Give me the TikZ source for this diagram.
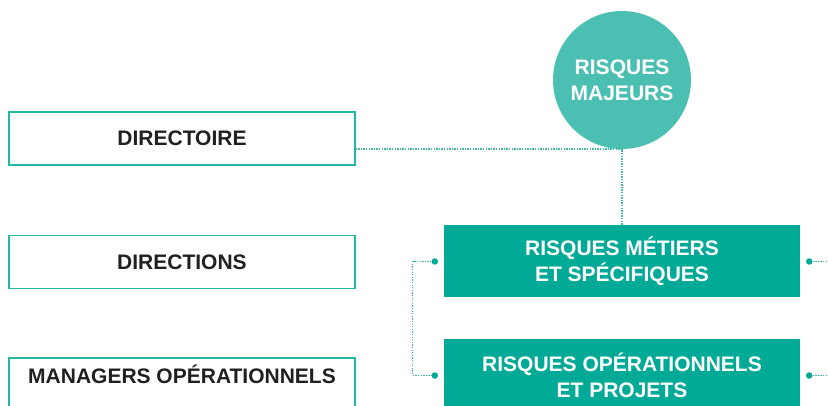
\documentclass[tikz,border=0pt]{standalone}
\usepackage{fontspec}
\setmainfont{Liberation Sans}
\definecolor{tealbox}{HTML}{00AA96}
\definecolor{tealcirc}{HTML}{4BC0B2}
\definecolor{tealbord}{HTML}{22B8A2}
\definecolor{tealdot}{HTML}{3DBBA8}
\definecolor{txtdark}{HTML}{231F20}
\newcommand{\boxfont}{\bfseries\fontsize{21}{26}\selectfont}
\begin{document}
\begin{tikzpicture}[x=1pt,y=-1pt,
  wbox/.style={draw=tealbord, line width=1.3pt, fill=white, minimum width=346pt,
    minimum height=53pt, inner sep=0pt, font=\boxfont, text=txtdark,
    text height=15pt, text depth=0pt},
  lbl/.style={inner sep=0pt, font=\boxfont, text=txtdark, text height=15pt, text depth=0pt},
  gbox/.style={fill=tealbox, minimum width=356pt, minimum height=72pt, inner sep=0pt,
    text=white, align=center, font=\boxfont},
  rcirc/.style={circle, fill=tealcirc, minimum size=138pt, inner sep=0pt,
    text=white, align=center, font=\boxfont},
  dotline/.style={draw=tealdot, line width=1.3pt, dash pattern=on 1.3pt off 1.3pt},
  dotend/.style={circle, fill=tealbox, minimum size=6.5pt, inner sep=0pt}]
\useasboundingbox (0,0) rectangle (828,406);
\clip (0,0) rectangle (828,406);

% left column
\node[wbox] (dir) at (182,138.5) {DIRECTOIRE};
\node[wbox] (dirs) at (182,262) {DIRECTIONS};
\node[wbox, minimum height=62pt] (mgr) at (182,389) {};
\node[lbl] (mgrt) at (182,375.5) {MANAGERS OPÉRATIONNELS};

% risks
\node[rcirc] (maj) at (622,80) {RISQUES\\MAJEURS};
\node[gbox] (rm1) at (622,261.5) {RISQUES MÉTIERS\\ET SPÉCIFIQUES};
\node[gbox] (rm2) at (622,375.5) {RISQUES OPÉRATIONNELS\\ET PROJETS};

% connector directoire -> risques metiers
\draw[dotline] ([yshift=-10.5pt]dir.east) -| (rm1.north);

% left bracket
\node[dotend] (d1) at ([xshift=-9pt]rm1.west) {};
\node[dotend] (d2) at ([xshift=-9pt]rm2.west) {};
\draw[dotline] (d1) -- ++(-22,0) |- (d2);

% right stubs
\node[dotend] (e1) at ([xshift=9pt]rm1.east) {};
\node[dotend] (e2) at ([xshift=9pt]rm2.east) {};
\coordinate (f1) at (840,261.5);
\coordinate (f2) at (840,375.5);
\draw[dotline] (e1) -- (f1);
\draw[dotline] (e2) -- (f2);
\end{tikzpicture}
\end{document}
